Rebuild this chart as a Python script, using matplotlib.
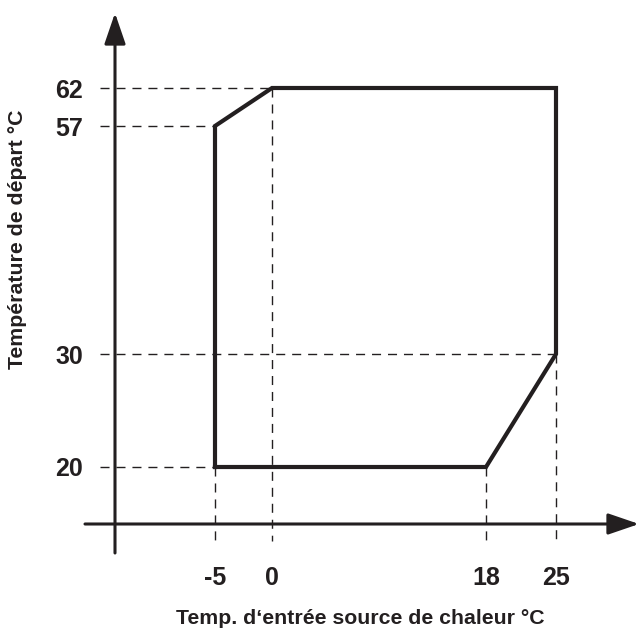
import numpy as np
import matplotlib
matplotlib.use('Agg')
import matplotlib.pyplot as plt

# 운전 범위 (열원 입구온도 vs 출수 온도)
x_ticks = [-5, 0, 18, 25]
y_ticks = [20, 30, 57, 62]
envelope_x = [-5, -5, 0, 25, 25, 18, -5]
envelope_y = [20, 57, 62, 62, 30, 20, 20]

# 가이드 점선: 눈금 -> 범위 꼭짓점
guide_h = [(62, 0), (57, -5), (30, 25), (20, -5)]     # (y, 끝나는 x)
guide_v = [(0, 62), (-5, 20), (18, 20), (25, 30)]     # (x, 시작 y)

ink = '#231f20'
W, H = 639, 633

# 도식용 축: 눈금 간격이 값에 비례하지 않음 -> 구간별 선형 스케일 (픽셀 위치)
x_px = [215, 272, 486, 556]
y_px = [H - 467, H - 354, H - 126, H - 88]


def piecewise(src, dst):
    src = np.asarray(src, float)
    dst = np.asarray(dst, float)

    def f(v, a, b):
        v = np.asarray(v, float)
        shp = v.shape
        v = np.atleast_1d(v)
        out = np.interp(v, a, b)
        lo = v < a[0]
        hi = v > a[-1]
        out[lo] = b[0] + (v[lo] - a[0]) * (b[1] - b[0]) / (a[1] - a[0])
        out[hi] = b[-1] + (v[hi] - a[-1]) * (b[-1] - b[-2]) / (a[-1] - a[-2])
        return out.reshape(shp)

    return (lambda v: f(v, src, dst)), (lambda p: f(p, dst, src))


fx, fx_inv = piecewise(x_ticks, x_px)
fy, fy_inv = piecewise(y_ticks, y_px)

fig = plt.figure(figsize=(W / 100, H / 100), dpi=100)
ax = fig.add_axes([0, 0, 1, 1])
ax.set_xscale('function', functions=(fx, fx_inv))
ax.set_yscale('function', functions=(fy, fy_inv))
ax.set_xlim(float(fx_inv(0)), float(fx_inv(W)))
ax.set_ylim(float(fy_inv(0)), float(fy_inv(H)))

x_left = float(fx_inv(100))
y_bottom = float(fy_inv(H - 541))

dash = dict(color=ink, lw=1.0, dashes=(6.5, 5), zorder=2)
for yv, xe in guide_h:
    ax.plot([x_left, xe], [yv, yv], **dash)
for xv, ys in guide_v:
    ax.plot([xv, xv], [ys, y_bottom], **dash)

ax.plot(envelope_x, envelope_y, color=ink, lw=3.0, solid_joinstyle='miter', zorder=3)

# 화살표 축
arrow = dict(arrowstyle='-|>,head_length=1.9,head_width=0.65', color=ink, lw=2.2,
             shrinkA=0, shrinkB=0, mutation_scale=10)
ax.annotate('', xy=(115, H - 13), xytext=(115, H - 553),
            xycoords='figure pixels', textcoords='figure pixels', arrowprops=arrow)
ax.annotate('', xy=(639, H - 524), xytext=(85, H - 524),
            xycoords='figure pixels', textcoords='figure pixels', arrowprops=arrow)

# 눈금 라벨
for s in ax.spines.values():
    s.set_color('none')
ax.spines['left'].set_position(('axes', 83 / W))
ax.spines['bottom'].set_position(('axes', (H - 566) / H))
ax.set_xticks(x_ticks, [str(v) for v in x_ticks])
ax.set_yticks(y_ticks, [str(v) for v in y_ticks])
ax.minorticks_off()
ax.tick_params(length=0, pad=0, labelsize=18, labelcolor=ink)
for t in ax.get_xticklabels() + ax.get_yticklabels():
    t.set_fontweight('bold')
    t.set_family('Liberation Sans')

ax.set_xlabel('Temp. d‘entrée source de chaleur °C', fontsize=15.3, fontweight='bold',
              family='Liberation Sans', color=ink)
ax.set_ylabel('Température de départ °C', fontsize=15.3, fontweight='bold',
              family='Liberation Sans', color=ink)
ax.xaxis.set_label_coords(360 / W, (H - 619) / H)
ax.yaxis.set_label_coords(18 / W, (H - 239) / H)
ax.xaxis.label.set_va('center')
ax.yaxis.label.set_va('center')

fig.savefig('out.png', dpi=100)
